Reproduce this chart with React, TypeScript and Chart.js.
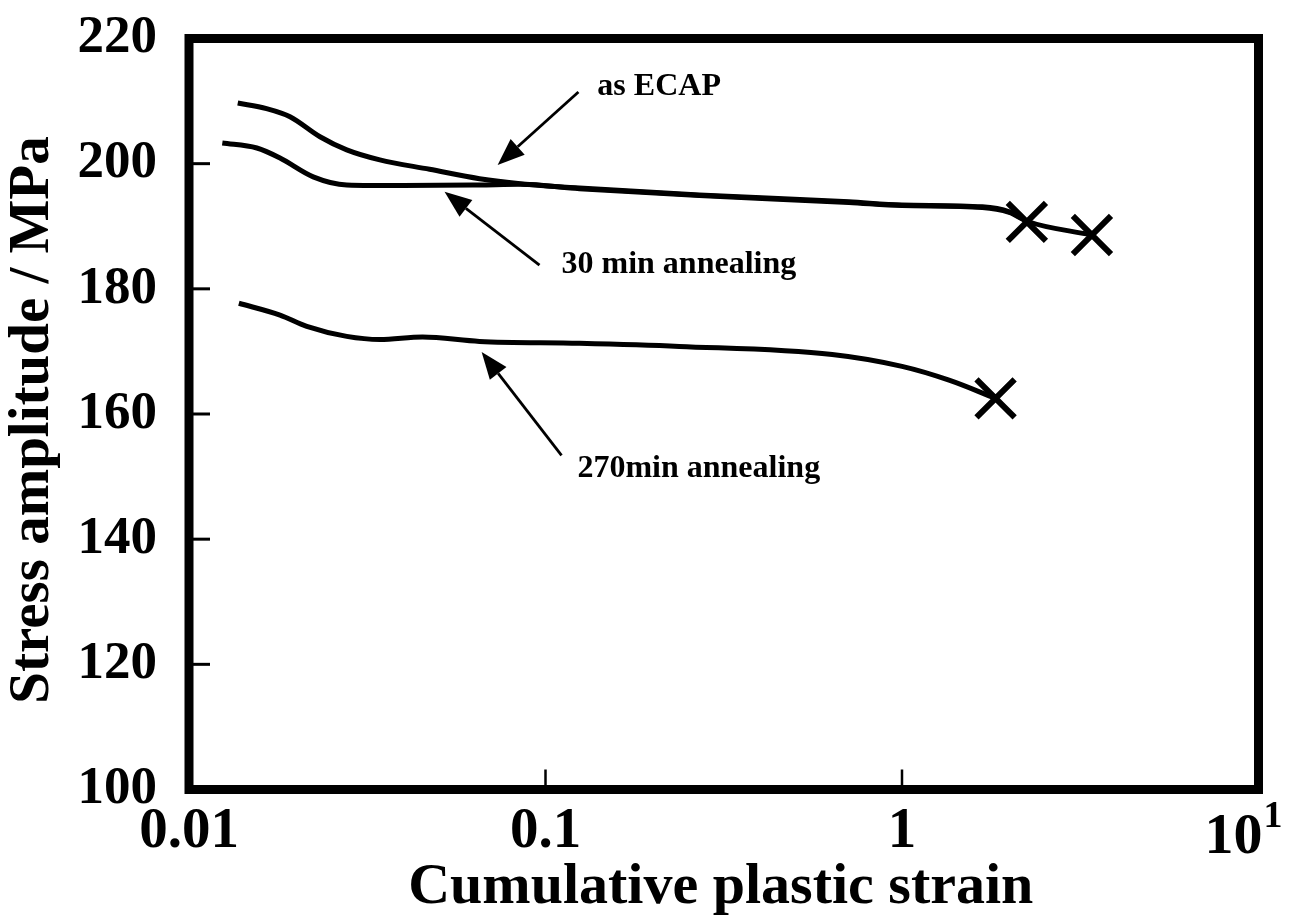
import React, { useEffect, useRef } from 'react';
import { Chart, registerables } from 'chart.js';

Chart.register(...registerables);

// ---- data ----
const xTicks = [0.01, 0.1, 1, 10];
const xTickLabels = ['0.01', '0.1', '1', ''];
const yTicks = [100, 120, 140, 160, 180, 200, 220];

const ecapStrain = [0.0137, 0.0165, 0.0192, 0.0233, 0.0277, 0.0343, 0.0473, 0.0653, 0.085, 0.1245, 0.27, 0.71, 1.0, 1.68, 2.0, 2.24];
const ecapStress = [209.7, 208.8, 207.5, 204.3, 202.2, 200.6, 199.1, 197.6, 196.8, 196.1, 195.0, 193.9, 193.4, 193.1, 192.3, 190.8];

const ann30Strain = [0.0124, 0.0155, 0.018, 0.0223, 0.0277, 0.04, 0.0653, 0.085, 0.1245, 0.27, 0.71, 1.0, 1.68, 2.0, 2.24, 3.41];
const ann30Stress = [203.3, 202.5, 200.9, 197.9, 196.6, 196.5, 196.6, 196.7, 196.0, 194.9, 193.8, 193.3, 193.0, 192.2, 190.8, 188.6];

const ann270Strain = [0.0138, 0.018, 0.0214, 0.0277, 0.0343, 0.0452, 0.0653, 0.1245, 0.2374, 0.637, 1.0, 1.355, 1.83];
const ann270Stress = [177.7, 175.8, 174.0, 172.4, 171.9, 172.3, 171.6, 171.3, 170.8, 169.5, 167.6, 165.4, 162.5];

const failStrain = [2.24, 3.41, 1.83];
const failStress = [190.7, 188.6, 162.5];

const noteLabels = ['as ECAP', '30 min annealing', '270min annealing'];
const noteTextX = [0.1398, 0.1109, 0.1229];
const noteTextY = [210.97, 182.5, 149.9];
const arrowTailX = [0.1237, 0.0962, 0.1109];
const arrowTailY = [211.45, 183.8, 153.4];
const arrowTipX = [0.0734, 0.0521, 0.0662];
const arrowTipY = [199.8, 195.5, 169.9];

const xTitle = 'Cumulative plastic strain';
const yTitle = 'Stress amplitude / MPa';

const FONT = "'Liberation Serif', 'DejaVu Serif', serif";

const toPts = (xs: number[], ys: number[]) => xs.map((x, i) => ({ x, y: ys[i] }));

const overlayPlugin = {
  id: 'overlay',
  afterDraw(chart: any) {
    const { ctx, chartArea: a, scales } = chart;
    const sx = scales.x;
    const sy = scales.y;
    ctx.save();
    ctx.strokeStyle = '#000';
    ctx.fillStyle = '#000';
    ctx.lineCap = 'butt';

    // inward ticks
    ctx.lineWidth = 3;
    yTicks.slice(1, -1).forEach((v) => {
      const py = sy.getPixelForValue(v);
      ctx.beginPath();
      ctx.moveTo(a.left, py);
      ctx.lineTo(a.left + 21, py);
      ctx.stroke();
    });
    ctx.lineWidth = 2.5;
    xTicks.slice(1, -1).forEach((v) => {
      const px = sx.getPixelForValue(v);
      ctx.beginPath();
      ctx.moveTo(px, a.bottom);
      ctx.lineTo(px, a.bottom - 20);
      ctx.stroke();
    });

    // frame
    ctx.lineWidth = 9;
    ctx.strokeRect(a.left, a.top, a.right - a.left, a.bottom - a.top);

    // last x tick label 10^1
    const p10 = sx.getPixelForValue(10);
    ctx.font = `bold 58px ${FONT}`;
    ctx.textAlign = 'right';
    ctx.textBaseline = 'alphabetic';
    ctx.fillText('10', p10 + 4, a.bottom + 63);
    ctx.font = `bold 38px ${FONT}`;
    ctx.textAlign = 'left';
    ctx.fillText('1', p10 + 5, a.bottom + 37);

    // arrows
    for (let i = 0; i < noteLabels.length; i++) {
      const tx = sx.getPixelForValue(arrowTailX[i]);
      const ty = sy.getPixelForValue(arrowTailY[i]);
      const hx = sx.getPixelForValue(arrowTipX[i]);
      const hy = sy.getPixelForValue(arrowTipY[i]);
      const ang = Math.atan2(hy - ty, hx - tx);
      const hl = 27;
      const hw = 10.5;
      const bx = hx - hl * Math.cos(ang);
      const by = hy - hl * Math.sin(ang);
      ctx.lineWidth = 2.8;
      ctx.beginPath();
      ctx.moveTo(tx, ty);
      ctx.lineTo(bx, by);
      ctx.stroke();
      ctx.beginPath();
      ctx.moveTo(hx, hy);
      ctx.lineTo(bx + hw * Math.sin(ang), by - hw * Math.cos(ang));
      ctx.lineTo(bx - hw * Math.sin(ang), by + hw * Math.cos(ang));
      ctx.closePath();
      ctx.fill();

      ctx.font = `bold 32px ${FONT}`;
      ctx.textAlign = 'left';
      ctx.textBaseline = 'alphabetic';
      ctx.fillText(noteLabels[i], sx.getPixelForValue(noteTextX[i]), sy.getPixelForValue(noteTextY[i]));
    }

    // axis titles
    ctx.font = `bold 58px ${FONT}`;
    ctx.textAlign = 'center';
    ctx.textBaseline = 'alphabetic';
    ctx.fillText(xTitle, (a.left + a.right) / 2 - 3, a.bottom + 113);

    ctx.save();
    ctx.translate(33, (a.top + a.bottom) / 2 + 6);
    ctx.rotate(-Math.PI / 2);
    ctx.font = `bold 57px ${FONT}`;
    ctx.textAlign = 'center';
    ctx.textBaseline = 'middle';
    ctx.fillText(yTitle, 0, 0);
    ctx.restore();

    ctx.restore();
  },
};

export default function App() {
  const ref = useRef<HTMLCanvasElement | null>(null);

  useEffect(() => {
    if (!ref.current) return;
    const lineDs = (label: string, xs: number[], ys: number[]) => ({
      label,
      data: toPts(xs, ys),
      borderColor: '#000',
      borderWidth: 5,
      pointRadius: 0,
      fill: false,
      cubicInterpolationMode: 'monotone' as const,
      showLine: true,
    });
    const chart = new Chart(ref.current, {
      type: 'line',
      data: {
        datasets: [
          lineDs('as ECAP', ecapStrain, ecapStress),
          lineDs('30 min annealing', ann30Strain, ann30Stress),
          lineDs('270min annealing', ann270Strain, ann270Stress),
          {
            label: 'failure',
            data: toPts(failStrain, failStress),
            showLine: false,
            pointStyle: 'crossRot',
            pointRadius: 27,
            pointBorderWidth: 6,
            pointBorderColor: '#000',
            borderColor: '#000',
            borderWidth: 6,
          } as any,
        ],
      },
      options: {
        responsive: false,
        animation: false,
        devicePixelRatio: 1,
        layout: { padding: { left: 0, top: 38.5, right: 39.5, bottom: 0 } },
        plugins: { legend: { display: false }, tooltip: { enabled: false }, title: { display: false } },
        scales: {
          x: {
            type: 'logarithmic',
            min: 0.01,
            max: 10,
            afterBuildTicks: (s: any) => {
              s.ticks = xTicks.map((v) => ({ value: v }));
            },
            afterFit: (s: any) => {
              s.height = 130.5;
              s.paddingLeft = 0;
              s.paddingRight = 0;
            },
            ticks: {
              autoSkip: false,
              maxRotation: 0,
              minRotation: 0,
              padding: 9,
              color: '#000',
              font: { family: FONT, size: 57, weight: 'bold' },
              callback: (v: any) => {
                const i = xTicks.findIndex((t) => Math.abs(t - Number(v)) / t < 1e-6);
                return i >= 0 ? xTickLabels[i] : '';
              },
            },
            grid: { display: false, drawTicks: false },
            border: { display: false },
          },
          y: {
            type: 'linear',
            min: 100,
            max: 220,
            afterBuildTicks: (s: any) => {
              s.ticks = yTicks.map((v) => ({ value: v }));
            },
            afterFit: (s: any) => {
              s.width = 189;
              s.paddingTop = 0;
              s.paddingBottom = 0;
            },
            ticks: {
              padding: 32,
              color: '#000',
              font: { family: FONT, size: 53, weight: 'bold' },
            },
            grid: { display: false, drawTicks: false },
            border: { display: false },
          },
        },
      } as any,
      plugins: [overlayPlugin],
    });
    return () => chart.destroy();
  }, []);

  return (
    <div style={{ position: 'fixed', left: 0, top: 0, width: 1298, height: 920, background: '#fff' }}>
      <canvas ref={ref} width={1298} height={920} style={{ display: 'block', width: 1298, height: 920 }} />
    </div>
  );
}
